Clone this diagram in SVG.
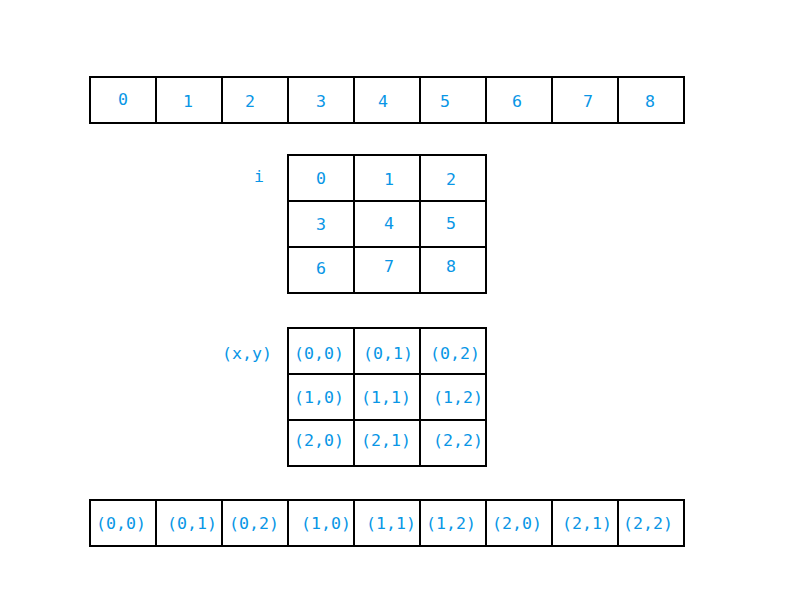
<svg xmlns="http://www.w3.org/2000/svg" width="800" height="600" viewBox="0 0 800 600">
<style>
rect{fill:#fff;stroke:#000;stroke-width:2}
text{font-family:"DejaVu Sans Mono","Liberation Mono",monospace;font-size:16.6px;fill:#0996e6;text-anchor:middle;dominant-baseline:central}
</style>
<rect x="0" y="0" width="800" height="600" style="stroke:none"/>
<g id="row1">
<g id="r1c0"><rect x="90" y="77" width="66" height="46"/><text x="123" y="99">0</text></g>
<g id="r1c1"><rect x="156" y="77" width="66" height="46"/><text x="188" y="101">1</text></g>
<g id="r1c2"><rect x="222" y="77" width="66" height="46"/><text x="250" y="101">2</text></g>
<g id="r1c3"><rect x="288" y="77" width="66" height="46"/><text x="321" y="101">3</text></g>
<g id="r1c4"><rect x="354" y="77" width="66" height="46"/><text x="383" y="101">4</text></g>
<g id="r1c5"><rect x="420" y="77" width="66" height="46"/><text x="445" y="101">5</text></g>
<g id="r1c6"><rect x="486" y="77" width="66" height="46"/><text x="517" y="101">6</text></g>
<g id="r1c7"><rect x="552" y="77" width="66" height="46"/><text x="588" y="101">7</text></g>
<g id="r1c8"><rect x="618" y="77" width="66" height="46"/><text x="650" y="101">8</text></g>
</g>
<g id="grid1">
<text id="label-i" x="259" y="176">i</text>
<g id="g1c0"><rect x="288" y="155" width="66" height="46"/><text x="321" y="178">0</text></g>
<g id="g1c1"><rect x="354" y="155" width="66" height="46"/><text x="389" y="179">1</text></g>
<g id="g1c2"><rect x="420" y="155" width="66" height="46"/><text x="451" y="179">2</text></g>
<g id="g1c3"><rect x="288" y="201" width="66" height="46"/><text x="321" y="224">3</text></g>
<g id="g1c4"><rect x="354" y="201" width="66" height="46"/><text x="389" y="223">4</text></g>
<g id="g1c5"><rect x="420" y="201" width="66" height="46"/><text x="451" y="223">5</text></g>
<g id="g1c6"><rect x="288" y="247" width="66" height="46"/><text x="321" y="268">6</text></g>
<g id="g1c7"><rect x="354" y="247" width="66" height="46"/><text x="389" y="266">7</text></g>
<g id="g1c8"><rect x="420" y="247" width="66" height="46"/><text x="451" y="266">8</text></g>
</g>
<g id="grid2">
<text id="label-xy" x="247" y="353">(x,y)</text>
<g id="g2c0"><rect x="288" y="328" width="66" height="46"/><text x="319" y="353">(0,0)</text></g>
<g id="g2c1"><rect x="354" y="328" width="66" height="46"/><text x="388" y="353">(0,1)</text></g>
<g id="g2c2"><rect x="420" y="328" width="66" height="46"/><text x="455" y="353">(0,2)</text></g>
<g id="g2c3"><rect x="288" y="374" width="66" height="46"/><text x="319" y="397">(1,0)</text></g>
<g id="g2c4"><rect x="354" y="374" width="66" height="46"/><text x="386" y="397">(1,1)</text></g>
<g id="g2c5"><rect x="420" y="374" width="66" height="46"/><text x="458" y="397">(1,2)</text></g>
<g id="g2c6"><rect x="288" y="420" width="66" height="46"/><text x="319" y="440">(2,0)</text></g>
<g id="g2c7"><rect x="354" y="420" width="66" height="46"/><text x="386" y="440">(2,1)</text></g>
<g id="g2c8"><rect x="420" y="420" width="66" height="46"/><text x="458" y="440">(2,2)</text></g>
</g>
<g id="row2">
<g id="r2c0"><rect x="90" y="500" width="66" height="46"/><text x="121" y="523">(0,0)</text></g>
<g id="r2c1"><rect x="156" y="500" width="66" height="46"/><text x="192" y="523">(0,1)</text></g>
<g id="r2c2"><rect x="222" y="500" width="66" height="46"/><text x="254" y="523">(0,2)</text></g>
<g id="r2c3"><rect x="288" y="500" width="66" height="46"/><text x="326" y="523">(1,0)</text></g>
<g id="r2c4"><rect x="354" y="500" width="66" height="46"/><text x="391" y="523">(1,1)</text></g>
<g id="r2c5"><rect x="420" y="500" width="66" height="46"/><text x="451" y="523">(1,2)</text></g>
<g id="r2c6"><rect x="486" y="500" width="66" height="46"/><text x="517" y="523">(2,0)</text></g>
<g id="r2c7"><rect x="552" y="500" width="66" height="46"/><text x="587" y="523">(2,1)</text></g>
<g id="r2c8"><rect x="618" y="500" width="66" height="46"/><text x="648" y="523">(2,2)</text></g>
</g>
<g id="connectors"/>
</svg>
